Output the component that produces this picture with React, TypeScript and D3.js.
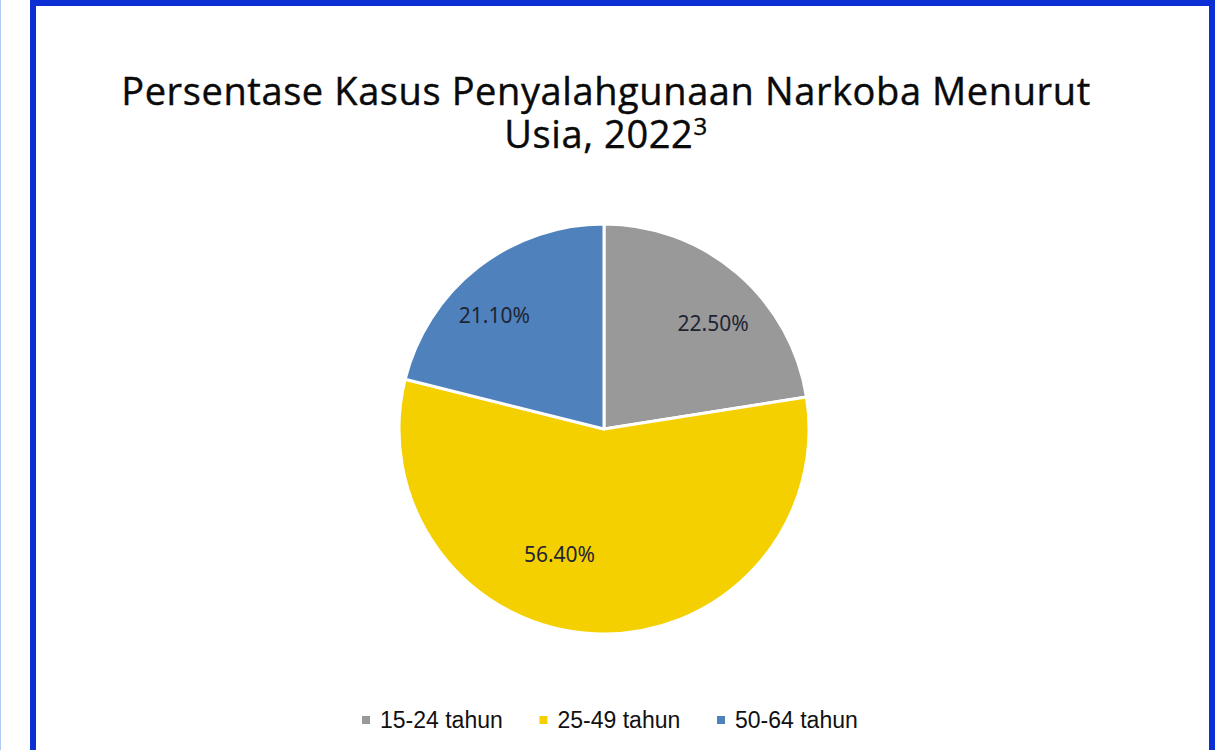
import React from 'react'
import * as d3 from 'd3'

// Data
const categories = ['15-24 tahun', '25-49 tahun', '50-64 tahun']
const shares = [22.5, 56.4, 21.1]
const colors = ['#999999', '#F5D000', '#4F81BD']
const titleLines = ['Persentase Kasus Penyalahgunaan Narkoba Menurut', 'Usia, 2022']

// best-fit style label placement (angle shift in degrees, radius as share of pie radius)
const labelShift = [5.5, 17, -6]
const labelRadius = [0.74, 0.65, 0.77]

const W = 1219
const H = 750

export default function App() {
  const cx = 604
  const cy = 429
  const radius = 205

  const pie = d3.pie<number>().sort(null).value(d => d)
  const arcs = pie(shares)
  const arc = d3.arc<d3.PieArcDatum<number>>().innerRadius(0).outerRadius(radius)

  // legend item positions
  const legendX = d3.scaleBand<string>().domain(categories).range([362, 894.5])

  return (
    <svg
      width={W}
      height={H}
      style={{ position: 'absolute', left: 0, top: 0, background: '#fff' }}
    >
      <rect x={0} y={0} width={W} height={H} fill="#ffffff" />
      <line x1={0.5} x2={0.5} y1={0} y2={H} stroke="#b3c8f2" strokeWidth={1} />

      {/* frame */}
      <rect x={33} y={3} width={1179} height={H + 20} fill="#ffffff" stroke="#0b2fd4" strokeWidth={6} />

      {/* title, two lines in one text element */}
      <text
        fontFamily="'Open Sans', sans-serif"
        fontSize={38}
        fill="#0a0a0a"
        stroke="#0a0a0a"
        strokeWidth={0.4}
        textAnchor="middle"
        fontWeight={500}
        letterSpacing={0.6}
        x={606}
        y={105}
      >
        <tspan x={606} y={105}>{titleLines[0]}</tspan>
        <tspan x={606} y={148}>{titleLines[1]}</tspan>
        <tspan fontSize={24} dy={-13}>3</tspan>
      </text>

      {/* pie */}
      <g transform={`translate(${cx},${cy})`}>
        {arcs.map((a, i) => (
          <path key={categories[i]} d={arc(a) ?? ''} fill={colors[i]} stroke="#ffffff" strokeWidth={3} strokeLinejoin="round" />
        ))}
        {arcs.map((a, i) => {
          const ang = (a.startAngle + a.endAngle) / 2 + (labelShift[i] * Math.PI) / 180
          const r = radius * labelRadius[i]
          return (
            <text
              key={'l' + i}
              x={Math.sin(ang) * r}
              y={-Math.cos(ang) * r}
              dy="0.35em"
              textAnchor="middle"
              fontFamily="'Noto Sans', sans-serif"
              fontSize={21}
              fill="#1f2433"
            >
              {shares[i].toFixed(2)}%
            </text>
          )
        })}
      </g>

      {/* legend */}
      <g fontFamily="'Liberation Sans', Arial, sans-serif" fontSize={23} fill="#111">
        {categories.map((c, i) => (
          <g key={c} transform={`translate(${legendX(c)},720)`}>
            <rect x={0} y={-4} width={8} height={8} fill={colors[i]} />
            <text x={18} y={0} dy="0.35em">{c}</text>
          </g>
        ))}
      </g>
    </svg>
  )
}
